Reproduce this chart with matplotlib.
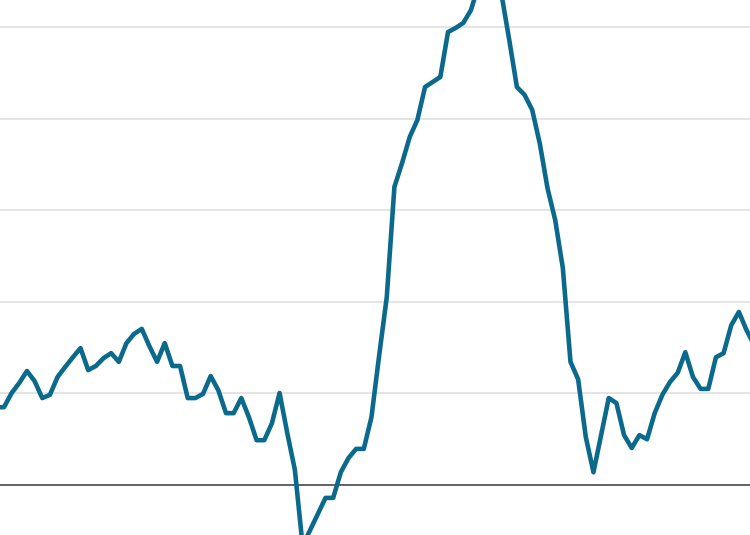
import matplotlib
matplotlib.use("Agg")
import matplotlib.pyplot as plt
import numpy as np

# values, one per period (gridlines every 2 units)
values = [
    1.70, 1.70, 2.01, 2.23, 2.49, 2.27, 1.90, 1.97, 2.36, 2.58,
    2.79, 2.99, 2.51, 2.60, 2.77, 2.88, 2.69, 3.10, 3.30, 3.41,
    3.03, 2.69, 3.10, 2.60, 2.60, 1.90, 1.90, 1.99, 2.38, 2.07,
    1.57, 1.57, 1.90, 1.48, 0.98, 0.98, 1.35, 2.01, 1.14, 0.33,
    -1.31, -0.98, -0.63, -0.28, -0.28, 0.28, 0.59, 0.79, 0.79, 1.48,
    2.82, 4.10, 6.51, 7.03, 7.60, 7.97, 8.69, 8.80, 8.91, 9.89,
    9.98, 10.09, 10.37, 10.92, 11.46, 11.35, 10.70, 9.72, 8.69, 8.52,
    8.19, 7.45, 6.48, 5.79, 4.74, 2.69, 2.31, 1.05, 0.28, 1.09,
    1.90, 1.79, 1.09, 0.81, 1.09, 1.00, 1.57, 1.97, 2.25, 2.45,
    2.90, 2.36, 2.10, 2.10, 2.79, 2.88, 3.49, 3.78, 3.38, 3.06,
]
grid_levels = [2, 4, 6, 8, 10]

x = np.arange(len(values))

fig = plt.figure(figsize=(7.5, 5.35), dpi=100)
ax = fig.add_axes([0, 0, 1, 1])

for g in grid_levels:
    ax.axhline(g, color="#e2e2e2", lw=1.3, zorder=1)
ax.axhline(0, color="#555555", lw=1.3, zorder=2)

ax.plot(x, values, color="#0b6a8b", lw=3.3, solid_joinstyle="round", zorder=3)

ax.set_xlim(0.48, 98.45)
ax.set_ylim(-1.09, 10.59)
ax.axis("off")

fig.savefig("out.png", dpi=100)
